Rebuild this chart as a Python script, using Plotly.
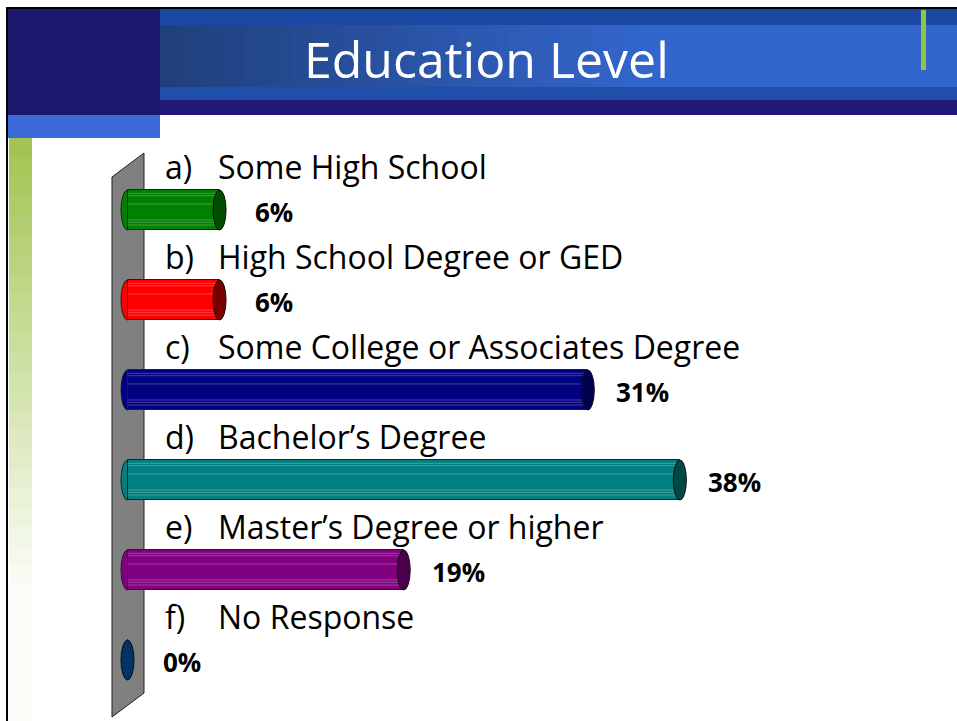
import plotly.graph_objects as go

# ---------------- data ----------------
letters = ["a)", "b)", "c)", "d)", "e)", "f)"]
categories = ["Some High School", "High School Degree or GED",
              "Some College or Associates Degree", "Bachelor\u2019s Degree",
              "Master\u2019s Degree or higher", "No Response"]
values = [6.25, 6.25, 31.25, 37.5, 18.75, 0.0]
value_labels = ["6%", "6%", "31%", "38%", "19%", "0%"]
title_text = "Education Level"

# ---------------- styles ----------------
body_colors = ["#008000", "#ff0000", "#000080", "#008080", "#800080", "#003366"]
cap_colors = ["#004d00", "#7a0000", "#000050", "#004848", "#4a004a", "#003366"]
W, H = 957, 721
FONT = "Open Sans"

# data axes: 0 -> x=127.5px, 14.73 px per unit ; category i -> y=210+90*i px
PXU = 14.73
X0PX = 127.5
xmin = -X0PX / PXU
xmax = xmin + W / PXU
YSTEP = 90.0
Y0PX = 210.0
ytop = -Y0PX / YSTEP
ybot = (H - Y0PX) / YSTEP

BAR_H = 40 / YSTEP
CAP_A = 6.5 / PXU


def px(x):
    return x / W


def py(y):
    return 1 - y / H


def mix(c1, c2, t):
    a = [int(c1[i:i + 2], 16) for i in (1, 3, 5)]
    b = [int(c2[i:i + 2], 16) for i in (1, 3, 5)]
    return "#" + "".join(f"{int(round(a[k] + (b[k] - a[k]) * t)):02x}" for k in range(3))


shapes = []


def prect(x0, y0, x1, y1, color, layer="below"):
    shapes.append(dict(type="rect", xref="paper", yref="paper",
                       x0=px(x0), x1=px(x1), y0=py(y1), y1=py(y0),
                       fillcolor=color, line=dict(width=0), layer=layer))


# ---------- banner ----------
prect(160, 9, W, 25, "#1a48a2")
N = 48
for k in range(N):
    xa = 160 + (W - 160) * k / N
    xb = 160 + (W - 160) * (k + 1) / N + 1
    t = min(1.0, (k / N) / 0.6)
    prect(xa, 25, xb, 87, mix("#20407c", "#3366cc", t))
prect(160, 87, W, 100, "#1f4fab")
prect(160, 100, W, 115, "#221a78")
prect(8, 9, 160, 115, "#1c186e")
prect(8, 115, 160, 138, "#3a6ad8")
# green accent line in banner
prect(921, 10, 926, 70, "#8dc63f")

# left green strip fading
M = 30
for k in range(M):
    ya = 138 + (H - 138) * k / M
    yb = 138 + (H - 138) * (k + 1) / M + 1
    t = min(1.0, (k / M) / 0.75)
    prect(9, ya, 32, yb, mix("#a2c452", "#fbfdf8", t))

# border lines
shapes.append(dict(type="line", xref="paper", yref="paper", x0=px(6), x1=1, y0=py(8), y1=py(8),
                   line=dict(color="#000000", width=2), layer="below"))
shapes.append(dict(type="line", xref="paper", yref="paper", x0=px(7), x1=px(7), y0=py(8), y1=0,
                   line=dict(color="#000000", width=2), layer="below"))

# gray wall
wall = [(112, 177), (144, 153), (144, 693), (112, 717)]
path = "M " + " L ".join(f"{px(a):.5f},{py(b):.5f}" for a, b in wall) + " Z"
shapes.append(dict(type="path", xref="paper", yref="paper", path=path,
                   fillcolor="#808080", line=dict(color="#202020", width=1), layer="below"))

# left (rear) caps of cylinders, below the bars
for i, v in enumerate(values):
    if v > 0:
        shapes.append(dict(type="circle", xref="x", yref="y",
                           x0=-CAP_A, x1=CAP_A, y0=i - BAR_H / 2, y1=i + BAR_H / 2,
                           fillcolor=body_colors[i], line=dict(color="#202020", width=1),
                           layer="below"))

# stripes on bars
stripe_offsets = [-0.185, -0.159, -0.067, 0.111, 0.137, 0.167]
for i, v in enumerate(values):
    if v > 0:
        for o in stripe_offsets:
            shapes.append(dict(type="line", xref="x", yref="y",
                               x0=0, x1=v - CAP_A * 0.5, y0=i + o, y1=i + o,
                               line=dict(color="rgba(255,255,255,0.25)", width=1),
                               layer="above"))

# end caps
for i, v in enumerate(values):
    shapes.append(dict(type="circle", xref="x", yref="y",
                       x0=v - CAP_A, x1=v + CAP_A, y0=i - BAR_H / 2, y1=i + BAR_H / 2,
                       fillcolor=cap_colors[i], line=dict(color="#101010", width=1),
                       layer="above"))

fig = go.Figure()
fig.add_trace(go.Bar(
    orientation="h",
    x=values,
    y=list(range(len(values))),
    base=0,
    width=BAR_H,
    marker=dict(color=body_colors, line=dict(color="#202020", width=1)),
    hoverinfo="skip",
    showlegend=False,
))

annotations = []
# title
annotations.append(dict(xref="paper", yref="paper", x=px(487), y=py(59),
                        text=title_text, showarrow=False, xanchor="center", yanchor="middle",
                        font=dict(family=FONT, size=50, color="#ffffff")))
for i, (lt, name) in enumerate(zip(letters, categories)):
    yy = i - 44 / YSTEP
    annotations.append(dict(xref="paper", yref="y", x=px(163), y=yy, text=lt,
                            showarrow=False, xanchor="left", yanchor="middle",
                            font=dict(family=FONT, size=32, color="#000000")))
    annotations.append(dict(xref="paper", yref="y", x=px(216), y=yy, text=name,
                            showarrow=False, xanchor="left", yanchor="middle",
                            font=dict(family=FONT, size=32, color="#000000")))
for i, (v, lab) in enumerate(zip(values, value_labels)):
    annotations.append(dict(xref="x", yref="y", x=v, y=i + 2 / YSTEP, text=f"<b>{lab}</b>",
                            showarrow=False, xanchor="center", yanchor="middle",
                            xshift=6.5 + 48,
                            font=dict(family=FONT, size=26, color="#000000")))

fig.update_layout(
    width=W, height=H,
    margin=dict(l=0, r=0, t=0, b=0),
    paper_bgcolor="#ffffff", plot_bgcolor="#ffffff",
    xaxis=dict(range=[xmin, xmax], visible=False, fixedrange=True),
    yaxis=dict(range=[ybot, ytop], visible=False, fixedrange=True),
    shapes=shapes,
    annotations=annotations,
    bargap=0,
)

fig.write_html("out.html", config={"displayModeBar": False},
               post_script="document.body.style.margin='0';document.body.style.padding='0';")
